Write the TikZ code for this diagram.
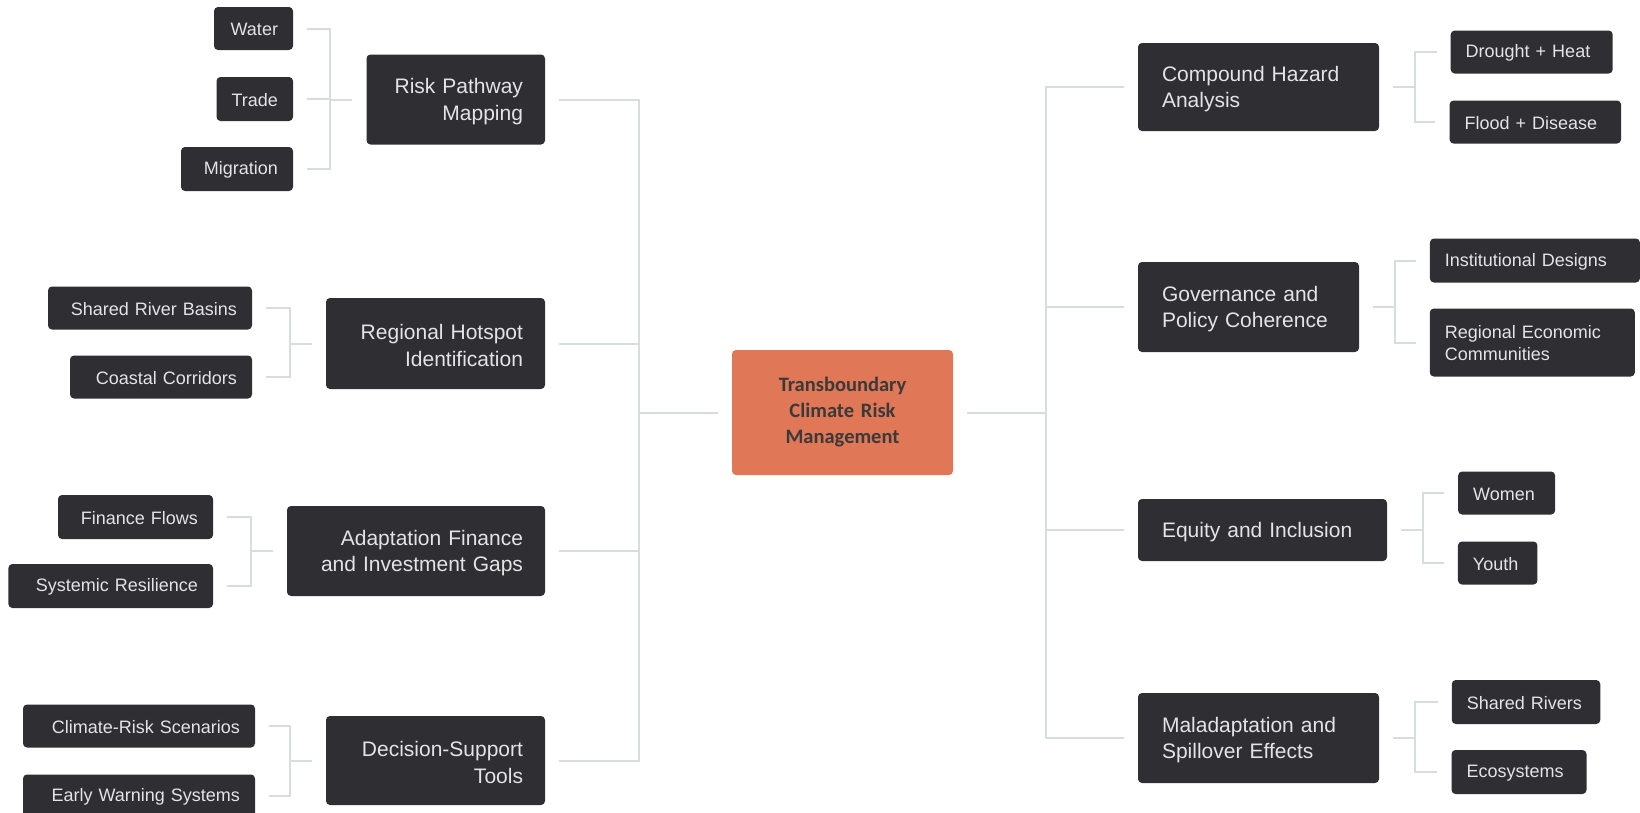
\documentclass[tikz,border=0pt]{standalone}
\usepackage{fontspec}
\setmainfont{Liberation Sans}
\newfontfamily\ctrfamily{Carlito}
\definecolor{boxc}{HTML}{2E2E33}
\definecolor{txtc}{HTML}{E4E4E4}
\definecolor{ctrc}{HTML}{E07757}
\definecolor{ctrtxt}{HTML}{3A3A3A}
\definecolor{linec}{HTML}{D6DDDA}
\newcommand\mainfs{\fontsize{21}{26.7}\selectfont}
\newcommand\subfs{\fontsize{18}{22}\selectfont}
\newcommand\ctrfs{\ctrfamily\bfseries\fontsize{20.5}{26}\selectfont}
\begin{document}
\begin{tikzpicture}[x=1pt,y=-1pt,
  box/.style={fill=boxc, rounded corners=4pt, text=txtc, inner sep=0pt},
  mL/.style 2 args={box, minimum width=#1pt, minimum height=#2pt, text width=#1pt-44pt, align=right, font=\mainfs, execute at begin node={\rule{0pt}{19.5pt}}},
  mR/.style 2 args={box, minimum width=#1pt, minimum height=#2pt, text width=#1pt-48pt, align=left, font=\mainfs, execute at begin node={\rule{0pt}{19.5pt}}},
  sL/.style 2 args={box, minimum width=#1pt, minimum height=#2pt, text width=#1pt-30pt, align=right, font=\subfs, execute at begin node={\rule{0pt}{15pt}}},
  sR/.style 2 args={box, minimum width=#1pt, minimum height=#2pt, text width=#1pt-30pt, align=left, font=\subfs, execute at begin node={\rule{0pt}{15pt}}},
  conn/.style={draw=linec, line width=2pt}]
\useasboundingbox (0,0) rectangle (1640,812);
% center
\node[fill=ctrc, rounded corners=4pt, inner sep=0pt, minimum width=221pt, minimum height=125pt, text width=200pt, align=center, text=ctrtxt, font=\ctrfs] (ctr) at (842.5,412.5) {Transboundary\\Climate Risk\\Management};
% left mains
\node[mL={178.5}{90}] (risk) at (455.75,99.5) {Risk Pathway\\Mapping};
\node[mL={219}{91}] (hot) at (435.5,343.5) {Regional Hotspot\\Identification};
\node[mL={258}{90}] (fin) at (416,551) {Adaptation Finance\\and Investment Gaps};
\node[mL={219}{89}] (dec) at (435.5,760.5) {Decision-Support\\Tools};
% right mains
\node[mR={241}{88}] (comp) at (1258.5,87) {Compound Hazard\\Analysis};
\node[mR={221}{90}] (gov) at (1248.5,307) {Governance and\\Policy Coherence};
\node[mR={249}{62}] (eq) at (1262.5,530) {Equity and Inclusion};
\node[mR={241}{90}] (mal) at (1258.5,738) {Maladaptation and\\Spillover Effects};
% left subs
\node[sL={79}{43}] (water) at (253.5,28.5) {Water};
\node[sL={76.5}{44}] (trade) at (254.75,99) {Trade};
\node[sL={112}{44}] (migr) at (237,169) {Migration};
\node[sL={204}{43}] (srb) at (150,308) {Shared River Basins};
\node[sL={182}{43}] (coast) at (161,377) {Coastal Corridors};
\node[sL={155}{44}] (ffl) at (135.5,517) {Finance Flows};
\node[sL={204.6}{44}] (sysr) at (110.7,586) {Systemic Resilience};
\node[sL={232}{43}] (crs) at (139,726) {Climate-Risk Scenarios};
\node[sL={232}{43}] (ews) at (139,796) {Early Warning Systems};
% right subs
\node[sR={162}{43}] (dh) at (1531.7,52) {Drought + Heat};
\node[sR={171.5}{43}] (fd) at (1535.3,122) {Flood + Disease};
\node[sR={210}{44}] (inst) at (1534.9,260.5) {Institutional Designs};
\node[sR={205}{68}] (rec) at (1532.3,342.5) {Regional Economic\\Communities};
\node[sR={97}{43}] (women) at (1506.6,493) {Women};
\node[sR={79.5}{43}] (youth) at (1497.7,563) {Youth};
\node[sR={148.5}{44}] (shr) at (1526,702) {Shared Rivers};
\node[sR={135}{44}] (eco) at (1519,772) {Ecosystems};
% trunks
\coordinate (lt) at (639,412.5);
\coordinate (rt) at (1046,412.5);
\draw[conn] (lt) -- ([xshift=-14pt]ctr.west);
\draw[conn] ([xshift=14pt]ctr.east) -- (rt);
\foreach \m in {risk,hot,fin,dec}
  \draw[conn] ([xshift=14pt]\m.east) -| (lt);
\foreach \m in {comp,gov,eq,mal}
  \draw[conn] (rt) |- ([xshift=-14pt]\m.west);
% left sub connectors
\foreach \s/\p in {water/risk,trade/risk,migr/risk,srb/hot,coast/hot,ffl/fin,sysr/fin,crs/dec,ews/dec}
  \draw[conn] ([xshift=14pt]\s.east) -| ([xshift=-36pt]\p.west) -- ([xshift=-14pt]\p.west);
% right sub connectors
\foreach \s/\p in {dh/comp,fd/comp,inst/gov,rec/gov,women/eq,youth/eq,shr/mal,eco/mal}
  \draw[conn] ([xshift=14pt]\p.east) -- ([xshift=36pt]\p.east) |- ([xshift=-14pt]\s.west);
\end{tikzpicture}
\end{document}
